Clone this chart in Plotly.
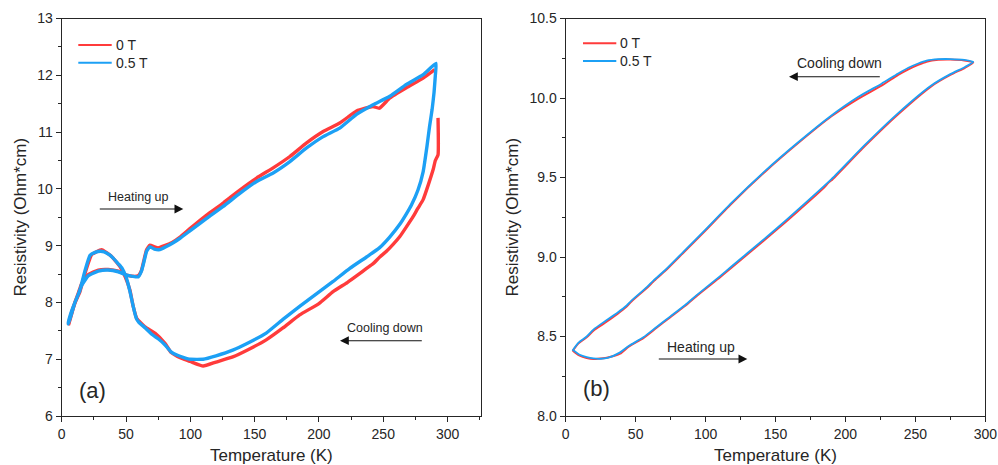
import plotly.graph_objects as go

W, H = 998, 465

# ---------------- Panel (a) data ----------------
# 0 T (red): cooling branch then heating branch
a_red_cool_T = [292.6, 292.6, 290.5, 288.8, 285, 281, 277, 273.2, 268, 262.9, 258, 252.5, 247.3, 242, 237, 230, 222,
                211, 200, 185, 172, 159, 146, 133, 120, 110, 100, 95, 90, 85, 80.3, 72.5, 64.7, 58.3, 55.6, 53,
                49.2, 45.3, 38.8, 31, 23.3, 18.1, 14.2, 10.3, 6.4, 5.2]
a_red_cool_R = [11.25, 10.6, 10.5, 10.34, 10.07, 9.81, 9.66, 9.51, 9.33, 9.16, 9.03, 8.9, 8.8, 8.68, 8.6, 8.48, 8.35,
                8.19, 7.98, 7.78, 7.55, 7.34, 7.18, 7.04, 6.95, 6.88, 6.96, 7.0, 7.05, 7.12, 7.28, 7.46, 7.57, 7.72,
                7.93, 8.22, 8.46, 8.63, 8.81, 8.93, 8.84, 8.51, 8.19, 7.99, 7.69, 7.6]
a_red_heat_T = [5.2, 8, 10.3, 13, 15.5, 20.7, 28.4, 36.2, 44, 50.5, 55, 59.5, 62.1, 64, 66, 68.6, 72, 75, 80, 85.5,
                92, 99.7, 112.7, 125.6, 138.5, 151.5, 164.4, 177.4, 190.4, 203.3, 216.2, 229.2, 236, 242.1, 247,
                255.1, 268, 281, 290]
a_red_heat_R = [7.62, 7.85, 8.0, 8.17, 8.33, 8.49, 8.57, 8.58, 8.55, 8.48, 8.46, 8.47, 8.57, 8.75, 8.93, 9.01, 8.98,
                8.96, 9.0, 9.05, 9.15, 9.3, 9.54, 9.75, 9.98, 10.19, 10.37, 10.57, 10.81, 11.01, 11.16, 11.37, 11.42,
                11.45, 11.42, 11.6, 11.78, 11.95, 12.1]

# 0.5 T (blue)
a_blue_cool_T = [291, 290.5, 289.5, 288, 286, 284, 281, 277, 272, 268, 263, 255, 247, 237, 224, 211, 198, 185, 172,
                 159, 146, 133, 120, 110, 100, 95, 90, 85, 80, 75, 70, 65, 60, 58, 55.6, 53, 50, 47, 44, 40, 37, 33,
                 30, 26, 22, 18, 14, 10.3, 7, 5.2]
a_blue_cool_R = [12.21, 12.0, 11.7, 11.4, 11.1, 10.75, 10.3, 9.98, 9.72, 9.56, 9.38, 9.15, 8.96, 8.8, 8.6, 8.37,
                 8.15, 7.93, 7.7, 7.46, 7.3, 7.16, 7.06, 7.0, 7.0, 7.03, 7.07, 7.13, 7.26, 7.36, 7.44, 7.55, 7.65,
                 7.72, 7.93, 8.2, 8.45, 8.6, 8.68, 8.78, 8.84, 8.89, 8.9, 8.88, 8.83, 8.55, 8.2, 8.0, 7.75, 7.62]
a_blue_heat_T = [5.2, 7, 10.3, 13, 15.5, 20.7, 28.4, 36, 44, 50.5, 55, 59.5, 62, 64, 66, 68.6, 72, 76.4, 81, 86.7,
                 92, 99.7, 112.7, 125.6, 138.5, 151.5, 164.4, 177.4, 190.4, 203.3, 216.2, 229.2, 242.1, 255.1, 268,
                 281, 291]
a_blue_heat_R = [7.65, 7.8, 8.0, 8.15, 8.3, 8.47, 8.55, 8.57, 8.54, 8.48, 8.46, 8.45, 8.55, 8.72, 8.9, 8.98, 8.94,
                 8.93, 8.98, 9.05, 9.13, 9.26, 9.48, 9.69, 9.92, 10.13, 10.28, 10.48, 10.72, 10.92, 11.07, 11.31,
                 11.48, 11.63, 11.84, 12.01, 12.21]

# ---------------- Panel (b) data ----------------
b_blue_cool_T = [291.4, 285, 275, 266.4, 258, 252, 245, 237.7, 225.8, 209, 190, 166, 142.4, 118.5, 99.4, 85, 70.8,
                 62.7, 58, 47, 43.6, 37, 27.9, 20, 15, 9, 5.2]
b_blue_cool_R = [10.227, 10.24, 10.245, 10.244, 10.235, 10.217, 10.19, 10.154, 10.09, 10.006, 9.89, 9.72, 9.54,
                 9.34, 9.167, 9.04, 8.915, 8.852, 8.81, 8.726, 8.695, 8.65, 8.595, 8.545, 8.5, 8.46, 8.415]
b_blue_heat_T = [5.2, 10, 15, 19.8, 25, 30, 38.9, 45, 55.5, 65, 74.6, 85, 95, 110.4, 118.5, 130, 149.5, 165, 190,
                 213.9, 237.7, 261.6, 275, 285.5, 291.4]
b_blue_heat_R = [8.415, 8.385, 8.37, 8.362, 8.36, 8.365, 8.4, 8.44, 8.495, 8.56, 8.625, 8.695, 8.77, 8.88, 8.94,
                 9.025, 9.17, 9.29, 9.49, 9.705, 9.905, 10.08, 10.15, 10.195, 10.227]

b_red_cool_T = [291.4, 285, 275, 266.4, 258, 252, 245, 237.7, 225.8, 209, 190, 166, 142.4, 118.5, 99.4, 85, 70.8,
                62.7, 58, 47, 43.6, 37, 27.9, 20, 15, 9, 5.2]
b_red_cool_R = [10.222, 10.236, 10.242, 10.24, 10.228, 10.208, 10.18, 10.145, 10.078, 9.995, 9.885, 9.715, 9.535,
                9.335, 9.162, 9.035, 8.91, 8.846, 8.805, 8.72, 8.688, 8.642, 8.585, 8.538, 8.495, 8.455, 8.412]
b_red_heat_T = [5.2, 10, 15, 19.8, 25, 30, 38.9, 45, 55.5, 65, 74.6, 85, 95, 110.4, 118.5, 130, 149.5, 165, 184,
                188, 190, 213.9, 237.7, 261.6, 275, 285.5, 291.4]
b_red_heat_R = [8.41, 8.38, 8.365, 8.358, 8.362, 8.368, 8.392, 8.436, 8.49, 8.555, 8.62, 8.69, 8.765, 8.873, 8.932,
                9.017, 9.162, 9.28, 9.43, 9.468, 9.482, 9.698, 9.898, 10.075, 10.145, 10.19, 10.222]

RED = "#FF3B3B"
BLUE = "#1CA0F5"
AX = "#262626"
FONT = "Liberation Sans, Arial, sans-serif"


def px(x):
    return x / W


def py(y):
    return 1 - y / H


fig = go.Figure()

# panel (a)
fig.add_trace(go.Scatter(x=a_red_cool_T + [None] + a_red_heat_T, y=a_red_cool_R + [None] + a_red_heat_R,
                         mode="lines", name="0 T", line=dict(color=RED, width=3.4, shape="spline", smoothing=0.4),
                         xaxis="x", yaxis="y", showlegend=False, connectgaps=False))
fig.add_trace(go.Scatter(x=a_blue_cool_T + a_blue_heat_T, y=a_blue_cool_R + a_blue_heat_R,
                         mode="lines", name="0.5 T", line=dict(color=BLUE, width=3.4, shape="spline", smoothing=0.4),
                         xaxis="x", yaxis="y", showlegend=False))
# panel (b)
fig.add_trace(go.Scatter(x=b_red_cool_T + b_red_heat_T, y=b_red_cool_R + b_red_heat_R,
                         mode="lines", name="0 T", line=dict(color=RED, width=2, shape="spline", smoothing=0.6),
                         xaxis="x2", yaxis="y2", showlegend=False))
fig.add_trace(go.Scatter(x=b_blue_cool_T + b_blue_heat_T, y=b_blue_cool_R + b_blue_heat_R,
                         mode="lines", name="0.5 T", line=dict(color=BLUE, width=1.8, shape="spline", smoothing=0.6),
                         xaxis="x2", yaxis="y2", showlegend=False))

common_axis = dict(showline=True, linecolor=AX, linewidth=1.3, mirror=True, ticks="outside", ticklen=5,
                   tickwidth=1.3, tickcolor=AX, showgrid=False, zeroline=False,
                   tickfont=dict(family=FONT, size=14, color=AX), automargin=False)

ydom = [py(416), py(18.5)]
fig.update_layout(
    width=W, height=H, margin=dict(l=0, r=0, t=0, b=0),
    paper_bgcolor="white", plot_bgcolor="white",
    font=dict(family=FONT, color=AX),
    xaxis=dict(domain=[px(61.7), px(481)], range=[0, 326], dtick=50, tick0=0,
               minor=dict(dtick=25, ticks="outside", ticklen=3, tickcolor=AX, tickwidth=1.2),
               title=dict(text="Temperature (K)", font=dict(family=FONT, size=17, color=AX), standoff=8),
               anchor="y", **common_axis),
    yaxis=dict(domain=ydom, range=[6, 13], dtick=1, tick0=6,
               minor=dict(dtick=0.5, ticks="outside", ticklen=3, tickcolor=AX, tickwidth=1.2),
               title=dict(text="Resistivity (Ohm*cm)", font=dict(family=FONT, size=17, color=AX), standoff=6),
               anchor="x", **common_axis),
    xaxis2=dict(domain=[px(565.7), px(985.3)], range=[0, 300], dtick=50, tick0=0,
                minor=dict(dtick=25, ticks="outside", ticklen=3, tickcolor=AX, tickwidth=1.2),
                title=dict(text="Temperature (K)", font=dict(family=FONT, size=17, color=AX), standoff=8),
                anchor="y2", **common_axis),
    yaxis2=dict(domain=ydom, range=[8, 10.5], dtick=0.5, tick0=8, tickformat=".1f",
                minor=dict(dtick=0.25, ticks="outside", ticklen=3, tickcolor=AX, tickwidth=1.2),
                title=dict(text="Resistivity (Ohm*cm)", font=dict(family=FONT, size=17, color=AX), standoff=6),
                anchor="x2", **common_axis),
    showlegend=False,
)

shapes = []
annotations = []

# manual legends
for (x0, x1, y, col, label) in [(78.3, 111.7, 45, RED, "0 T"), (78.3, 111.7, 62.7, BLUE, "0.5 T"),
                                (583, 616.3, 43.3, RED, "0 T"), (583, 616.3, 61, BLUE, "0.5 T")]:
    shapes.append(dict(type="line", xref="paper", yref="paper", x0=px(x0), x1=px(x1), y0=py(y), y1=py(y),
                       line=dict(color=col, width=2)))
    annotations.append(dict(xref="paper", yref="paper", x=px(x1 + 2), y=py(y), text=label, showarrow=False,
                            xanchor="left", yanchor="middle", font=dict(family=FONT, size=14, color=AX)))

# text labels
for (x, y, t, s) in [(138, 196.7, "Heating up", 12.5), (384.7, 327.7, "Cooling down", 12.5),
                     (92.7, 390, "(a)", 22), (839.5, 63.3, "Cooling down", 14), (701.3, 347.3, "Heating up", 14),
                     (596.7, 388.3, "(b)", 22)]:
    annotations.append(dict(xref="paper", yref="paper", x=px(x), y=py(y), text=t, showarrow=False,
                            xanchor="center", yanchor="middle", font=dict(family=FONT, size=s, color=AX)))

# arrows (head, tail)
for (hx, hy, tx, ty) in [(183.3, 209, 98.3, 209), (340, 340.7, 423.3, 340.7),
                         (789, 76.7, 881.3, 76.7), (747.3, 359, 657.3, 359)]:
    annotations.append(dict(xref="paper", yref="paper", x=px(hx), y=py(hy), ax=tx - hx, ay=ty - hy,
                            axref="pixel", ayref="pixel", text="", showarrow=True, arrowhead=2, arrowsize=1.6,
                            arrowwidth=1.1, arrowcolor="#111111", standoff=0, startstandoff=0))

fig.update_layout(shapes=shapes, annotations=annotations)
fig.write_html("out.html")
